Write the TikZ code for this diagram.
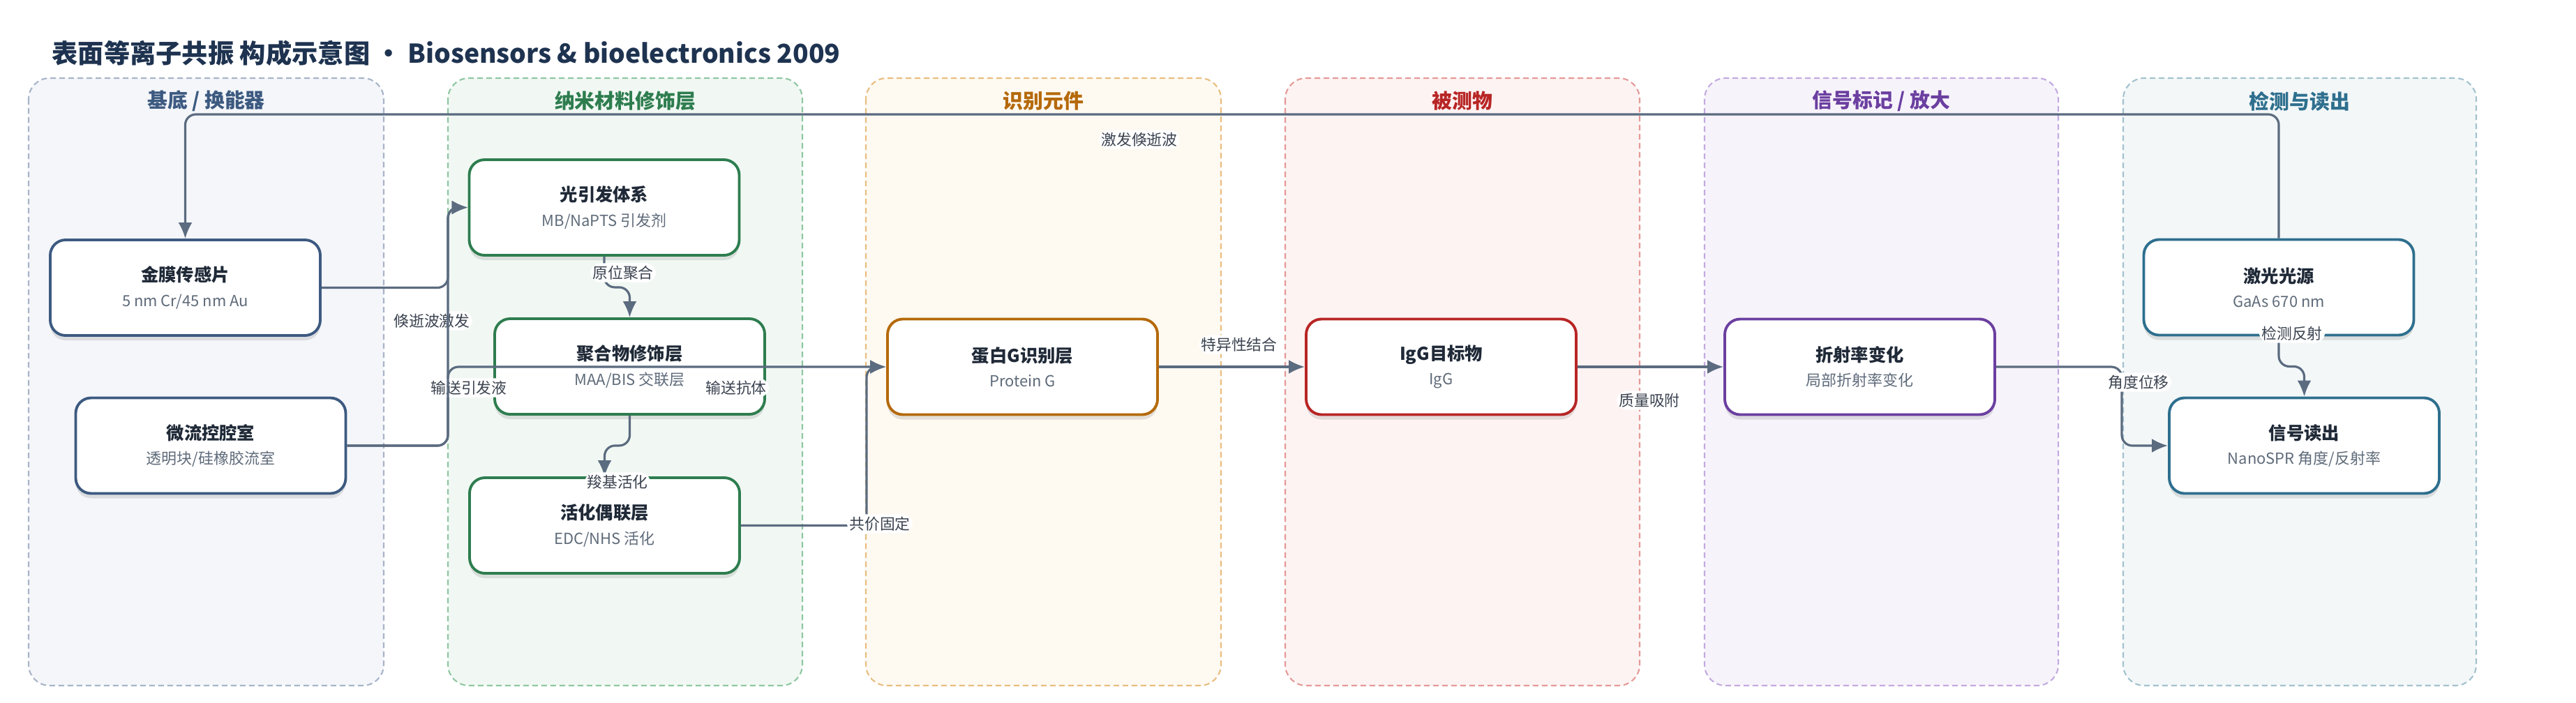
\documentclass[tikz,border=0pt]{standalone}
\usepackage{fontspec}
\setmainfont{Noto Sans CJK SC}
\usetikzlibrary{arrows.meta, calc, positioning, shadows}

\definecolor{titlecol}{HTML}{1E3350}
\definecolor{edgecol}{HTML}{5B6B80}
\definecolor{namecol}{HTML}{1F2937}
\definecolor{subcol}{HTML}{5F6B7A}
\definecolor{lblcol}{HTML}{3B4350}
% lane colours: border, fill, accent
\definecolor{baseline}{HTML}{A8B4C8}\definecolor{basebg}{HTML}{F4F6FA}\definecolor{basecol}{HTML}{3D5A80}
\definecolor{nanoline}{HTML}{8FC7A2}\definecolor{nanobg}{HTML}{F1F8F3}\definecolor{nanocol}{HTML}{2E7D4F}
\definecolor{recline}{HTML}{E8BE80}\definecolor{recbg}{HTML}{FEF9F1}\definecolor{reccol}{HTML}{B5690A}
\definecolor{analine}{HTML}{E49A98}\definecolor{anabg}{HTML}{FDF3F2}\definecolor{anacol}{HTML}{B82525}
\definecolor{sigline}{HTML}{C2ABDF}\definecolor{sigbg}{HTML}{F7F3FB}\definecolor{sigcol}{HTML}{6B3FA0}
\definecolor{detline}{HTML}{A3C2CE}\definecolor{detbg}{HTML}{F3F7F8}\definecolor{detcol}{HTML}{2E6F8E}

\newcommand{\subtxt}{\color{subcol}\fontsize{6.25}{8}\selectfont}

\begin{document}
\begin{tikzpicture}[node distance = 6cm,
    lane/.style={rounded corners=0.3cm, dash pattern=on 0.08cm off 0.05cm, line width=0.6pt},
    lanehead/.style={font=\fontsize{8.2}{9}\selectfont\bfseries},
    box/.style={draw, rectangle, rounded corners=0.22cm, line width=1.1pt, fill=white, align=center,
        minimum width=3.87cm, minimum height=1.37cm, inner sep=0pt, text=namecol,
        font=\fontsize{7.2}{10}\selectfont,
        drop shadow={shadow xshift=0cm, shadow yshift=-0.07cm, opacity=0.15, fill=black!70}},
    flow/.style={draw=edgecol, line width=0.9pt, rounded corners=0.15cm, -{Latex[length=2.3mm, width=2mm]}},
    lbl/.style={fill=white, inner sep=1pt, text=lblcol, font=\fontsize{6.2}{7}\selectfont}]
		\path[use as bounding box] (0, 0) rectangle (36.92, -10.07);
		
		\node[anchor=west, inner sep=0pt, text=titlecol, font=\fontsize{10.6}{12}\selectfont\bfseries] (title) at (0.74, -0.76) {表面等离子共振 构成示意图 · Biosensors \& bioelectronics 2009};
		
		% lanes
		\draw[lane, draw=baseline, fill=basebg] (0.41, -1.12) rectangle (5.50, -9.83);
		\draw[lane, draw=nanoline, fill=nanobg] (6.42, -1.12) rectangle (11.50, -9.83);
		\draw[lane, draw=recline, fill=recbg] (12.41, -1.12) rectangle (17.50, -9.83);
		\draw[lane, draw=analine, fill=anabg] (18.42, -1.12) rectangle (23.50, -9.83);
		\draw[lane, draw=sigline, fill=sigbg] (24.43, -1.12) rectangle (29.50, -9.83);
		\draw[lane, draw=detline, fill=detbg] (30.43, -1.12) rectangle (35.49, -9.83);
		\node[lanehead, text=basecol] (hbase) at (2.955, -1.45) {基底 / 换能器};
		\node[lanehead, text=nanocol] (hnano) at (8.96, -1.45) {纳米材料修饰层};
		\node[lanehead, text=reccol] (hrec) at (14.955, -1.45) {识别元件};
		\node[lanehead, text=anacol] (hana) at (20.96, -1.45) {被测物};
		\node[lanehead, text=sigcol] (hsig) at (26.965, -1.45) {信号标记 / 放大};
		\node[lanehead, text=detcol] (hdet) at (32.96, -1.45) {检测与读出};
		
		% components
		\node[box, draw=basecol] (gold) at (2.655, -4.125) {{\bfseries 金膜传感片}\\{\subtxt 5 nm Cr/45 nm Au}};
		\node[box, draw=basecol] (micro) at (3.02, -6.39) {{\bfseries 微流控腔室}\\{\subtxt 透明块/硅橡胶流室}};
		\node[box, draw=nanocol] (pinit) at (8.66, -2.975) {{\bfseries 光引发体系}\\{\subtxt MB/NaPTS 引发剂}};
		\node[box, draw=nanocol] (poly) at (9.025, -5.255) {{\bfseries 聚合物修饰层}\\{\subtxt MAA/BIS 交联层}};
		\node[box, draw=nanocol] (act) at (8.665, -7.535) {{\bfseries 活化偶联层}\\{\subtxt EDC/NHS 活化}};
		\node[box, draw=reccol] (protg) at (14.655, -5.26) {{\bfseries 蛋白G识别层}\\{\subtxt Protein G}};
		\node[box, draw=anacol, right of = protg] (igg) {{\bfseries IgG目标物}\\{\subtxt IgG}};
		\node[box, draw=sigcol, right of = igg] (refr) {{\bfseries 折射率变化}\\{\subtxt 局部折射率变化}};
		\node[box, draw=detcol] (laser) at (32.66, -4.12) {{\bfseries 激光光源}\\{\subtxt GaAs 670 nm}};
		\node[box, draw=detcol] (readout) at (33.025, -6.39) {{\bfseries 信号读出}\\{\subtxt NanoSPR 角度/反射率}};
		
		\coordinate (top) at (0, -1.64);
		\coordinate (trunk) at (6.42, 0);
		\coordinate (bus) at (12.42, 0);
		\coordinate (shift) at (30.41, 0);
		
		% connectors
		\draw[flow] (laser.north) -- (laser.north |- top) -| (gold.north) node[lbl] at (16.33, -2.00) {激发倏逝波};
		\draw[flow] (gold.east) -- (gold.east -| trunk) |- (pinit.west) node[lbl] at (6.19, -4.60) {倏逝波激发};
		\draw[flow] (micro.east) -- (micro.east -| trunk) |- (pinit.west) node[lbl] at (6.72, -5.56) {输送引发液};
		\draw[flow] (micro.east) -- (micro.east -| trunk) |- (protg.west) node[lbl] at (10.55, -5.56) {输送抗体};
		\draw[flow] (pinit.south) -- ++(0, -0.44) -| (poly.north) node[lbl] at (8.93, -3.91) {原位聚合};
		\draw[flow] (poly.south) -- ++(0, -0.43) -| (act.north) node[lbl] at (8.85, -6.91) {羧基活化};
		\draw[flow] (act.east) -- (act.east -| bus) |- (protg.west) node[lbl] at (12.61, -7.51) {共价固定};
		\draw[flow] (protg) -- (igg) node[lbl] at (17.76, -4.94) {特异性结合};
		\draw[flow] (igg) -- (refr) node[lbl] at (23.64, -5.74) {质量吸附};
		\draw[flow] (refr.east) -- (refr.east -| shift) |- (readout.west) node[lbl] at (30.65, -5.48) {角度位移};
		\draw[flow] (laser.south) -- ++(0, -0.43) -| (readout.north) node[lbl] at (32.85, -4.78) {检测反射};
		\end{tikzpicture}
\end{document}
